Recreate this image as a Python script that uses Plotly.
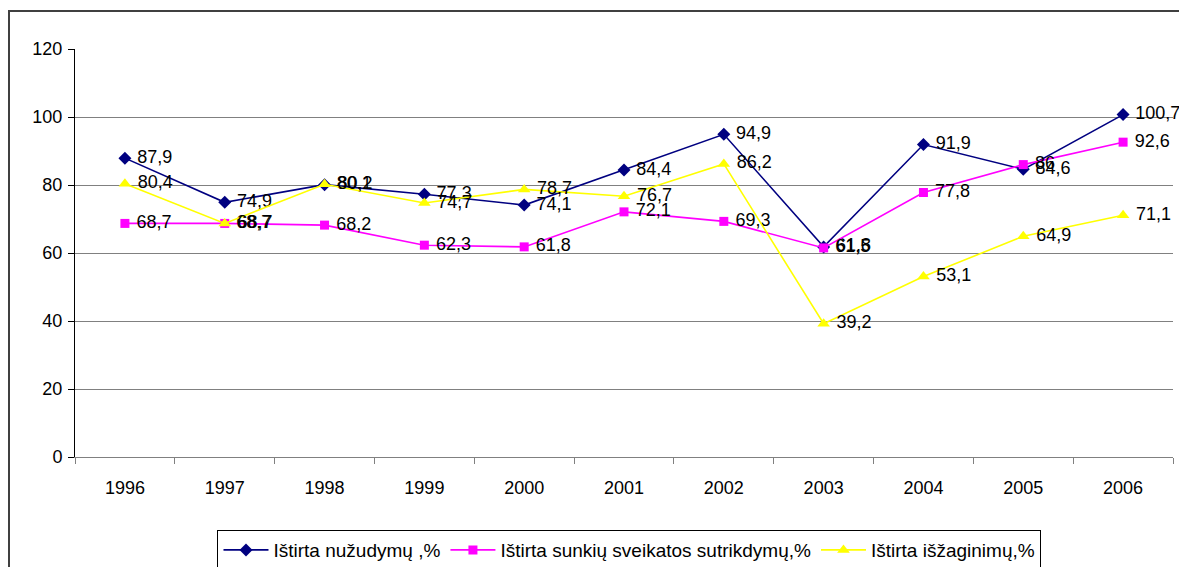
import plotly.graph_objects as go

years = ["1996", "1997", "1998", "1999", "2000", "2001", "2002", "2003", "2004", "2005", "2006"]
nuzudymu = [87.9, 74.9, 80.1, 77.3, 74.1, 84.4, 94.9, 61.8, 91.9, 84.6, 100.7]
sunkiu = [68.7, 68.7, 68.2, 62.3, 61.8, 72.1, 69.3, 61.5, 77.8, 86, 92.6]
isz = [80.4, 68.7, 80.2, 74.7, 78.7, 76.7, 86.2, 39.2, 53.1, 64.9, 71.1]
names = ["Ištirta nužudymų ,%", "Ištirta sunkių sveikatos sutrikdymų,%", "Ištirta išžaginimų,%"]
y_ticks = [0, 20, 40, 60, 80, 100, 120]

def lbl(vals):
    return [" " + f"{v:g}".replace(".", ",") for v in vals]

FONT = "Liberation Sans, Arial, sans-serif"
fig = go.Figure()
specs = [
    (nuzudymu, names[0], "#000080", "diamond", 10),
    (sunkiu, names[1], "#FF00FF", "square", 9),
    (isz, names[2], "#FFFF00", "triangle-up", 11),
]
for vals, nm, col, sym, sz in specs:
    fig.add_trace(go.Scatter(
        x=years, y=vals, name=nm, mode="lines+markers+text",
        line=dict(color=col, width=1.6),
        marker=dict(symbol=sym, size=sz, color=col),
        text=lbl(vals), textposition="middle right",
        textfont=dict(family=FONT, size=18, color="black"),
        cliponaxis=False,
    ))

fig.update_layout(
    width=1187, height=567,
    margin=dict(l=67, r=22, t=41, b=118, autoexpand=False),
    paper_bgcolor="white", plot_bgcolor="white",
    font=dict(family=FONT, size=18, color="black"),
    showlegend=True,
    legend=dict(orientation="h", x=0.505, xanchor="center", y=-0.179, yanchor="top",
                bordercolor="black", borderwidth=1, font=dict(size=19, family=FONT),
                itemwidth=45, tracegroupgap=0),
    xaxis=dict(type="category", range=[-0.5, 10.5], showgrid=False,
               ticks="outside", tickson="boundaries", ticklen=6, tickcolor="#808080",
               showline=True, linecolor="#808080", linewidth=1,
               ticklabelstandoff=14, tickfont=dict(size=18)),
    yaxis=dict(range=[0, 120], tickvals=y_ticks, showgrid=True, gridcolor="#808080", gridwidth=1,
               ticks="outside", ticklen=6, tickcolor="black",
               showline=True, linecolor="black", linewidth=1, zeroline=False,
               ticklabelstandoff=2, tickfont=dict(size=18)),
    shapes=[dict(type="rect", xref="paper", yref="paper",
                 x0=-66/1098, x1=1.03, y0=-0.3, y1=(457-11)/408,
                 line=dict(color="#404040", width=2), fillcolor="rgba(0,0,0,0)", layer="below")],
)
fig.write_html("out.html")
